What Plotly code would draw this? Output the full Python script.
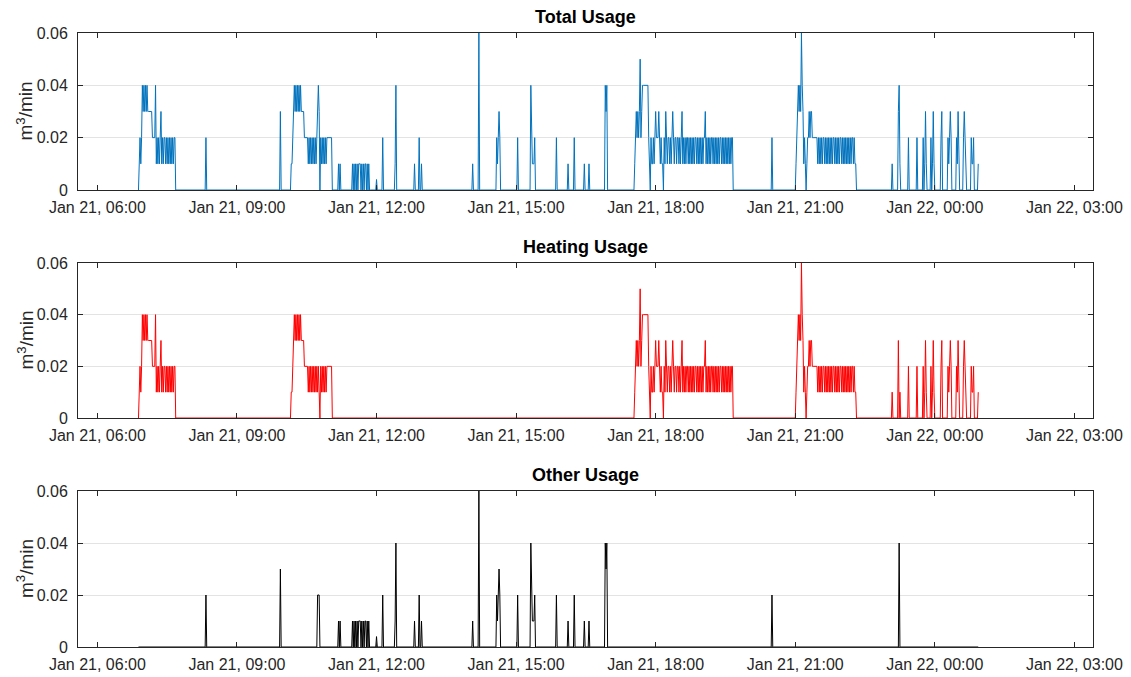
import numpy as np
import pandas as pd
import plotly.graph_objects as go

# ---------------- data (values in hundredths of m3/min, 1-minute samples) ----------------
series_start = "2021-01-21 06:53"
series_end = "2021-01-22 00:56"

heating_morning_start = "2021-01-21 06:53"
heating_morning = [0, 1, 2, 1, 2,
                   4, 3, 4, 3, 4, 3, 4,
                   3, 3, 3, 3, 3, 3,
                   2, 2, 2, 2,
                   4, 1, 2, 1, 2, 1, 2, 3,
                   1, 2, 1, 2, 2, 1, 2, 1, 2, 1, 2, 1, 2, 1, 2, 1, 2, 2,
                   0]

heating_midmorning_start = "2021-01-21 10:09"
heating_midmorning = [0, 1, 1, 2, 3,
                      4, 3, 4, 3, 4, 3, 4, 3, 4,
                      3, 3, 3, 3,
                      2, 2, 2, 2, 2,
                      1, 2, 1, 2, 1, 2, 1, 2, 1, 2, 1, 2, 1, 2, 1,
                      0,
                      2, 1, 2, 1, 2, 1, 2, 1, 2,
                      2, 2, 2, 2, 2, 2,
                      0]

heating_evening_start = "2021-01-21 17:32"
heating_evening = [0, 1, 2, 3, 2, 3, 2, 3, 5, 2, 3,
                   4, 4, 4, 4, 4, 4, 4, 4,
                   2, 1, 0, 2, 1, 1, 2, 1, 2,
                   3, 2, 2, 2, 3, 2, 1, 2, 1, 1, 0,
                   2, 1, 3, 2, 1, 2, 2, 1, 2, 1, 2, 3,
                   2, 1, 2, 2, 1, 2, 2, 1, 2, 1, 2, 3,
                   1, 2, 1, 2, 1, 2, 2,
                   1, 2, 1, 2, 1, 2, 1, 2, 1, 2, 2,
                   1, 2, 1, 2, 1, 2, 1, 2, 1, 2, 2,
                   3,
                   1, 2, 1, 2, 1, 2, 1, 2, 2,
                   1, 2, 1, 2, 1, 2, 1, 2, 1, 2, 2,
                   1, 2, 1, 2, 1, 2, 1, 2, 1, 2, 1, 2, 1, 2,
                   2, 0]

heating_night_start = "2021-01-21 20:59"
heating_night = [0, 0, 1, 2, 3, 4, 3, 4, 3, 6, 4, 3, 1, 2, 1, 0, 1, 2, 2, 3, 2, 3, 3, 2,
                 2, 2, 2, 2, 2, 2,
                 1,
                 2, 1, 2, 1, 2, 1, 2, 2, 1, 2, 1, 2,
                 1, 2, 1, 2, 1, 2, 1, 2, 2, 1, 2, 1,
                 2, 1, 2, 1, 2, 2, 1, 2, 1, 2, 1, 2,
                 1, 2, 1, 2, 1, 2, 1, 2, 2, 1, 2, 1,
                 1, 0]

heating_late_times = ["2021-01-21 23:05", "2021-01-21 23:13", "2021-01-21 23:15", "2021-01-21 23:26",
                      "2021-01-21 23:37", "2021-01-21 23:45", "2021-01-21 23:47", "2021-01-21 23:48",
                      "2021-01-21 23:49", "2021-01-21 23:55", "2021-01-21 23:57", "2021-01-21 23:58",
                      "2021-01-21 23:59", "2021-01-22 00:08", "2021-01-22 00:09", "2021-01-22 00:17",
                      "2021-01-22 00:18", "2021-01-22 00:19", "2021-01-22 00:20", "2021-01-22 00:21",
                      "2021-01-22 00:28", "2021-01-22 00:29", "2021-01-22 00:30", "2021-01-22 00:31",
                      "2021-01-22 00:37", "2021-01-22 00:38", "2021-01-22 00:39", "2021-01-22 00:40",
                      "2021-01-22 00:47", "2021-01-22 00:48", "2021-01-22 00:49", "2021-01-22 00:50",
                      "2021-01-22 00:56"]
heating_late_values = [1, 3, 1, 2, 2, 2, 1, 3, 1, 2, 1, 3, 1, 2, 3, 2, 1, 2, 3, 2,
                       2, 1, 3, 1, 2, 3, 2, 1, 2, 1, 1, 2, 1]

other_block_start = "2021-01-21 11:29"
other_block = [1, 0, 1, 0, 1, 0, 1, 0, 1, 1, 1, 0, 1, 0, 1, 0, 1, 1, 0, 1, 0, 1, 0]

other_times = ["2021-01-21 08:20", "2021-01-21 09:56", "2021-01-21 10:44", "2021-01-21 10:45",
               "2021-01-21 10:46", "2021-01-21 11:11", "2021-01-21 11:13", "2021-01-21 12:00",
               "2021-01-21 12:08", "2021-01-21 12:24", "2021-01-21 12:25", "2021-01-21 12:49",
               "2021-01-21 12:55", "2021-01-21 12:58", "2021-01-21 14:04", "2021-01-21 14:12",
               "2021-01-21 14:35", "2021-01-21 14:36", "2021-01-21 14:37", "2021-01-21 14:38",
               "2021-01-21 14:39", "2021-01-21 15:02", "2021-01-21 15:19", "2021-01-21 15:20",
               "2021-01-21 15:21", "2021-01-21 15:22", "2021-01-21 15:23", "2021-01-21 15:24",
               "2021-01-21 15:52", "2021-01-21 16:07", "2021-01-21 16:15", "2021-01-21 16:28",
               "2021-01-21 16:34", "2021-01-21 16:55", "2021-01-21 16:56", "2021-01-21 16:57",
               "2021-01-21 20:30", "2021-01-21 23:14"]
other_values = [2, 3, 2, 2, 2, 1, 1, 0.4, 2, 1, 4, 1, 2, 1, 1, 6, 2, 1, 2, 3, 2, 2, 4, 2, 1, 1, 1, 2,
                2, 1, 2, 1, 1, 4, 3, 4, 2, 4]

tick_times = ["2021-01-21 06:00", "2021-01-21 09:00", "2021-01-21 12:00", "2021-01-21 15:00",
              "2021-01-21 18:00", "2021-01-21 21:00", "2021-01-22 00:00", "2021-01-22 03:00"]
tick_labels = ["Jan 21, 06:00", "Jan 21, 09:00", "Jan 21, 12:00", "Jan 21, 15:00",
               "Jan 21, 18:00", "Jan 21, 21:00", "Jan 22, 00:00", "Jan 22, 03:00"]
y_ticks = [0, 0.02, 0.04, 0.06]
y_labels = ["0", "0.02", "0.04", "0.06"]
x_range = ["2021-01-21 05:35", "2021-01-22 03:24"]
titles = ["Total Usage", "Heating Usage", "Other Usage"]

# ---------------- assemble on the sampling grid ----------------
grid = pd.date_range(series_start, series_end, freq="1min")
pos = {t: i for i, t in enumerate(grid)}
heat = np.zeros(len(grid))
other = np.zeros(len(grid))


def put_block(arr, start, vals):
    i0 = pos[pd.Timestamp(start)]
    arr[i0:i0 + len(vals)] = vals


def put_points(arr, times, vals):
    for t, v in zip(times, vals):
        arr[pos[pd.Timestamp(t)]] = v


put_block(heat, heating_morning_start, heating_morning)
put_block(heat, heating_midmorning_start, heating_midmorning)
put_block(heat, heating_evening_start, heating_evening)
put_block(heat, heating_night_start, heating_night)
put_points(heat, heating_late_times, heating_late_values)
put_block(other, other_block_start, other_block)
put_points(other, other_times, other_values)

heat = heat * 0.01
other = other * 0.01
total = heat + other

# ---------------- figure ----------------
FONT = "Liberation Sans, Arial, Helvetica, sans-serif"
AXC = "#262626"
OFF = 8                                   # default body margin of the html page
W, H = 1131 - OFF, 677 - OFF
ml, mt = 78 - OFF, 33 - OFF
mr = W - (1093 - OFF)
mb = H - (647 - OFF)
ph = H - mt - mb
pix = [(33, 190), (263, 418), (491, 647)]
domains = [[(H - mb - (b - OFF)) / ph, (H - mb - (t - OFF)) / ph] for t, b in pix]

colors = ["#0072BD", "#FF0000", "#000000"]
ys = [total, heat, other]

fig = go.Figure()
for k in range(3):
    sfx = "" if k == 0 else str(k + 1)
    fig.add_trace(go.Scatter(x=grid, y=ys[k], mode="lines",
                             line=dict(color=colors[k], width=1),
                             xaxis="x" + sfx, yaxis="y" + sfx, showlegend=False))
    common = dict(showline=True, linecolor=AXC, linewidth=1, mirror="ticks",
                  ticks="inside", ticklen=5, tickcolor=AXC, tickwidth=1, automargin=False,
                  tickfont=dict(family=FONT, size=16, color=AXC), zeroline=False)
    fig.update_layout(**{
        "xaxis" + sfx: dict(common, type="date", range=x_range, tickmode="array",
                            tickvals=tick_times, ticktext=tick_labels, showgrid=False,
                            anchor="y" + sfx, domain=[0, 1], ticklabelstandoff=3),
        "yaxis" + sfx: dict(common, range=[0, 0.06], tickmode="array", tickvals=y_ticks,
                            ticktext=y_labels, showgrid=True, gridcolor="#e3e3e3", gridwidth=1,
                            anchor="x" + sfx, domain=domains[k], ticklabelstandoff=6),
    })
    fig.add_annotation(text="<b>" + titles[k] + "</b>", xref="paper", yref="paper",
                       x=0.5, y=domains[k][1], xanchor="center", yanchor="bottom", yshift=4,
                       showarrow=False, font=dict(family=FONT, size=18, color="#000000"))
    fig.add_annotation(text="m<sup>3</sup>/min", xref="paper", yref="paper",
                       x=(25 - 78) / (W - ml - mr), y=(domains[k][0] + domains[k][1]) / 2,
                       xanchor="center", yanchor="middle", textangle=-90, showarrow=False,
                       font=dict(family=FONT, size=19, color=AXC))

fig.update_layout(width=W, height=H, margin=dict(l=ml, r=mr, t=mt, b=mb, autoexpand=False),
                  paper_bgcolor="white", plot_bgcolor="white", showlegend=False)
fig.write_html("out.html", config={"displayModeBar": False})
